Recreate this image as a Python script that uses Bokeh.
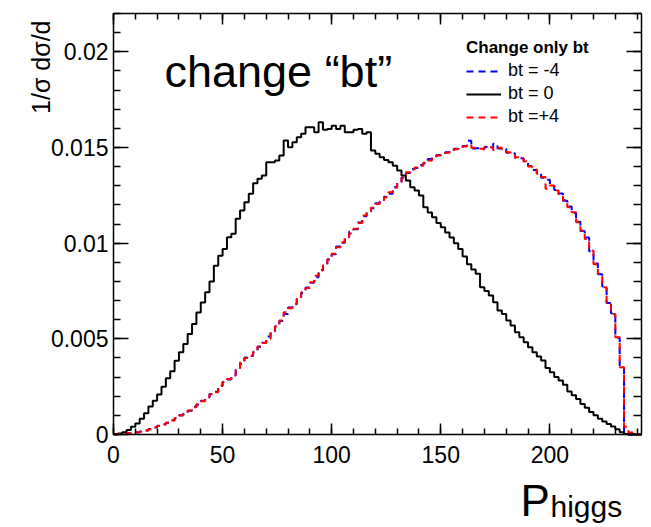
from bokeh.plotting import figure
from bokeh.models import (Range1d, FixedTicker, LinearAxis, Label, Legend, LegendItem,
                          CustomLabelingPolicy)
from bokeh.embed import file_html
from bokeh.resources import INLINE

# ---------------- data ----------------
bin_edges = [2.0 * i for i in range(122)]  # 121 bins of width 2, from 0 to 242

black_bt0 = [0.00002, 0.00005, 0.00012, 0.00024, 0.00040, 0.00058, 0.00082, 0.00111, 0.00146, 0.00177,
             0.00209, 0.00250, 0.00294, 0.00330, 0.00386, 0.00430, 0.00473, 0.00525, 0.00577, 0.00638,
             0.00690, 0.00743, 0.00800, 0.00882, 0.00934, 0.00970, 0.01031, 0.01049, 0.01127, 0.01170,
             0.01214, 0.01258, 0.01313, 0.01336, 0.01353, 0.01423, 0.01423, 0.01432, 0.01458, 0.01536,
             0.01501, 0.01527, 0.01553, 0.01571, 0.01606, 0.01606, 0.01580, 0.01632, 0.01592, 0.01597,
             0.01614, 0.01597, 0.01614, 0.01580, 0.01580, 0.01592, 0.01597, 0.01571, 0.01580, 0.01484,
             0.01467, 0.01449, 0.01435, 0.01423, 0.01405, 0.01379, 0.01353, 0.01327, 0.01292, 0.01275,
             0.01249, 0.01188, 0.01160, 0.01135, 0.01105, 0.01083, 0.01055, 0.01030, 0.01000, 0.00970,
             0.00930, 0.00890, 0.00862, 0.00840, 0.00770, 0.00750, 0.00726, 0.00691, 0.00648, 0.00630,
             0.00596, 0.00570, 0.00534, 0.00508, 0.00482, 0.00456, 0.00430, 0.00408, 0.00387, 0.00348,
             0.00325, 0.00300, 0.00282, 0.00260, 0.00225, 0.00205, 0.00185, 0.00160, 0.00140, 0.00117,
             0.00100, 0.00082, 0.00068, 0.00055, 0.00042, 0.00028, 0.00012, 0.00003, 0.0, 0.0,
             0.0]

red_btp4 = [0.00001, 0.00002, 0.00003, 0.00006, 0.00009, 0.00012, 0.00015, 0.00021, 0.00028, 0.00038,
            0.00045, 0.00052, 0.00062, 0.00073, 0.00086, 0.00099, 0.00110, 0.00125, 0.00143, 0.00158,
            0.00174, 0.00195, 0.00210, 0.00221, 0.00256, 0.00273, 0.00290, 0.00308, 0.00338, 0.00378,
            0.00400, 0.00413, 0.00430, 0.00460, 0.00478, 0.00500, 0.00543, 0.00564, 0.00596, 0.00639,
            0.00660, 0.00683, 0.00709, 0.00743, 0.00765, 0.00796, 0.00830, 0.00857, 0.00885, 0.00913,
            0.00945, 0.00979, 0.01005, 0.01030, 0.01050, 0.01075, 0.01105, 0.01144, 0.01165, 0.01185,
            0.01205, 0.01220, 0.01240, 0.01266, 0.01290, 0.01318, 0.01340, 0.01370, 0.01385, 0.01395,
            0.01405, 0.01420, 0.01432, 0.01445, 0.01458, 0.01465, 0.01472, 0.01479, 0.01490, 0.01501,
            0.01505, 0.01515, 0.01498, 0.01493, 0.01493, 0.01500, 0.01501, 0.01487, 0.01498, 0.01490,
            0.01475, 0.01467, 0.01449, 0.01440, 0.01428, 0.01400, 0.01385, 0.01362, 0.01345, 0.01284,
            0.01301, 0.01275, 0.01250, 0.01225, 0.01188, 0.01161, 0.01109, 0.01066, 0.01022, 0.00960,
            0.00890, 0.00840, 0.00770, 0.00690, 0.00630, 0.00508, 0.00352, 0.00040, 0.00010, 0.0,
            0.0]

blue_btm4 = [0.00001, 0.00002, 0.00004, 0.00006, 0.00009, 0.00011, 0.00016, 0.00021, 0.00029, 0.00037,
             0.00046, 0.00053, 0.00061, 0.00074, 0.00085, 0.00100, 0.00112, 0.00124, 0.00145, 0.00156,
             0.00176, 0.00193, 0.00212, 0.00223, 0.00254, 0.00275, 0.00288, 0.00310, 0.00336, 0.00370,
             0.00403, 0.00410, 0.00433, 0.00458, 0.00480, 0.00512, 0.00540, 0.00566, 0.00593, 0.00630,
             0.00664, 0.00680, 0.00712, 0.00740, 0.00768, 0.00793, 0.00822, 0.00860, 0.00882, 0.00916,
             0.00942, 0.00982, 0.01002, 0.01033, 0.01060, 0.01072, 0.01108, 0.01141, 0.01168, 0.01182,
             0.01208, 0.01217, 0.01243, 0.01258, 0.01293, 0.01315, 0.01343, 0.01367, 0.01388, 0.01392,
             0.01408, 0.01417, 0.01440, 0.01442, 0.01461, 0.01462, 0.01475, 0.01476, 0.01493, 0.01498,
             0.01508, 0.01535, 0.01495, 0.01496, 0.01490, 0.01503, 0.01498, 0.01520, 0.01495, 0.01493,
             0.01472, 0.01470, 0.01446, 0.01443, 0.01420, 0.01403, 0.01382, 0.01365, 0.01342, 0.01331,
             0.01298, 0.01278, 0.01260, 0.01222, 0.01191, 0.01158, 0.01112, 0.01063, 0.01030, 0.00957,
             0.00893, 0.00837, 0.00773, 0.00687, 0.00633, 0.00505, 0.00355, 0.0, 0.0, 0.0,
             0.0]

x_ticks = [0, 50, 100, 150, 200]
x_tick_labels = ["0", "50", "100", "150", "200"]
y_ticks = [0, 0.005, 0.01, 0.015, 0.02]
y_tick_labels = ["0", "0.005", "0.01", "0.015", "0.02"]
x_minor = [10.0 * i for i in range(25)]
y_minor = [0.001 * i for i in range(23)]
X_MIN, X_MAX = 0, 242
Y_MIN, Y_MAX = 0, 0.022

FONT = "Liberation Sans"

# ---------------- layout geometry (canvas pixels) ----------------
W, H = 651, 527
BOX_L, BOX_R, BOX_T, BOX_B = 113, 641, 13, 434
sx = (BOX_R - BOX_L) / (X_MAX - X_MIN)
sy = (BOX_B - BOX_T) / (Y_MAX - Y_MIN)
x_lo = X_MIN - BOX_L / sx
x_hi = X_MAX + (W - BOX_R) / sx
y_lo = Y_MIN - (H - BOX_B) / sy
y_hi = Y_MAX + BOX_T / sy


def px_x(px):
    return X_MIN + (px - BOX_L) / sx


def px_y(py):
    return Y_MIN + (BOX_B - py) / sy


# ---------------- figure ----------------
p = figure(width=W, height=H, output_backend="svg", toolbar_location=None,
           x_range=Range1d(x_lo, x_hi), y_range=Range1d(y_lo, y_hi),
           min_border=0)
p.background_fill_color = "white"
p.border_fill_color = "white"
p.grid.visible = False
p.outline_line_color = None


def step_xy(vals):
    return bin_edges, list(vals) + [vals[-1]]


xb, yb = step_xy(blue_btm4)
r_blue = p.step(xb, yb, mode="after", line_color="#0000ff", line_width=2, line_dash="7 5")
xk, yk = step_xy(black_bt0)
r_black = p.step(xk, yk, mode="after", line_color="black", line_width=2)
xr, yr = step_xy(red_btp4)
r_red = p.step(xr, yr, mode="after", line_color="#ff0000", line_width=2, line_dash="7 5")

# ---------------- axes (drawn at fixed positions around the box) ----------------
xa = p.xaxis[0]
ya = p.yaxis[0]
xa.ticker = FixedTicker(ticks=x_ticks, minor_ticks=x_minor)
ya.ticker = FixedTicker(ticks=y_ticks, minor_ticks=y_minor)
xa.major_label_overrides = dict(zip(x_ticks, x_tick_labels))
ya.major_label_overrides = dict(zip(y_ticks, y_tick_labels))
xa.fixed_location = Y_MIN
ya.fixed_location = X_MIN
xa.bounds = (X_MIN, X_MAX)
ya.bounds = (Y_MIN, Y_MAX)

for ax in (xa, ya):
    ax.axis_line_color = "black"
    ax.axis_line_width = 1.5
    ax.major_tick_out = 0
    ax.minor_tick_out = 0
    ax.major_tick_line_color = "black"
    ax.minor_tick_line_color = "black"
    ax.major_tick_line_width = 1.5
    ax.minor_tick_line_width = 1.5
    ax.major_label_text_font = FONT
    ax.major_label_text_font_size = "23px"
    ax.major_label_text_color = "black"

xa.major_tick_in = 11
xa.minor_tick_in = 6
xa.major_label_standoff = 11
ya.major_tick_in = 15
ya.minor_tick_in = 7
ya.major_label_standoff = 5

no_labels = CustomLabelingPolicy(code="for (const i of indices) { indices.unset(i) }\nreturn indices")

top = LinearAxis(ticker=FixedTicker(ticks=x_ticks, minor_ticks=x_minor),
                 fixed_location=Y_MAX, bounds=(X_MIN, X_MAX),
                 major_label_policy=no_labels, major_tick_out=0, minor_tick_out=0,
                 major_tick_in=11, minor_tick_in=6, axis_line_width=1.5,
                 major_tick_line_width=1.5, minor_tick_line_width=1.5)
right = LinearAxis(ticker=FixedTicker(ticks=y_ticks, minor_ticks=y_minor),
                   fixed_location=X_MAX, bounds=(Y_MIN, Y_MAX),
                   major_label_policy=no_labels, major_tick_out=0, minor_tick_out=0,
                   major_tick_in=15, minor_tick_in=8, axis_line_width=1.5,
                   major_tick_line_width=1.5, minor_tick_line_width=1.5)
p.add_layout(top, "above")
p.add_layout(right, "right")

# ---------------- texts ----------------
p.add_layout(Label(x=px_x(40), y=px_y(20), text="1/σ dσ/d", angle=1.5708,
                   text_align="right", text_baseline="alphabetic",
                   text_font=FONT, text_font_size="25px", text_color="black"))
p.add_layout(Label(x=px_x(520), y=px_y(500), text="P", text_align="left",
                   text_baseline="alphabetic", text_font=FONT, text_font_size="44px",
                   text_color="black"))
p.add_layout(Label(x=px_x(550), y=px_y(506), text="higgs", text_align="left",
                   text_baseline="alphabetic", text_font=FONT, text_font_size="30px",
                   text_color="black"))
p.add_layout(Label(x=px_x(164), y=px_y(71), text="change “bt”", text_align="left",
                   text_baseline="alphabetic", text_font=FONT, text_font_size="45px",
                   text_color="black"))

# ---------------- legend ----------------
legend = Legend(items=[LegendItem(label="bt = -4", renderers=[r_blue]),
                       LegendItem(label="bt = 0", renderers=[r_black]),
                       LegendItem(label="bt =+4", renderers=[r_red])],
                location=(466, H - 127), title="Change only bt",
                title_text_font=FONT, title_text_font_style="bold",
                title_text_font_size="17px", title_standoff=2, title_text_color="black",
                label_text_font=FONT, label_text_font_size="18px", label_text_color="black",
                glyph_width=35, glyph_height=20, label_standoff=7, spacing=2,
                padding=0, margin=0, border_line_alpha=0, background_fill_alpha=0)
p.add_layout(legend, "center")

open("out.html", "w").write(file_html(p, INLINE))
